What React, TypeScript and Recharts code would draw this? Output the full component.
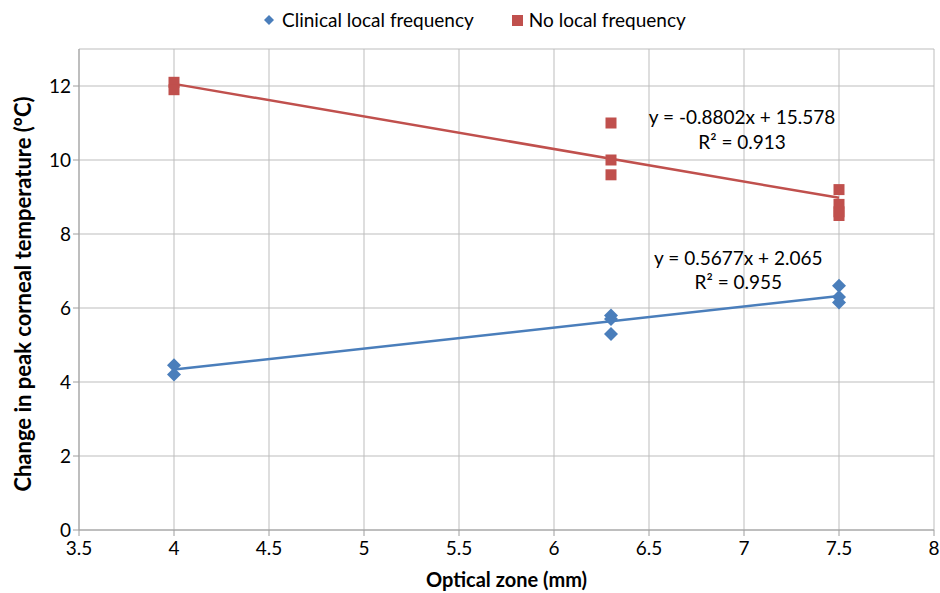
import {
  ScatterChart,
  Scatter,
  XAxis,
  YAxis,
  CartesianGrid,
  ReferenceDot,
} from "recharts";

const clinical = [
  { x: 4, y: 4.45 },
  { x: 4, y: 4.2 },
  { x: 6.3, y: 5.8 },
  { x: 6.3, y: 5.7 },
  { x: 6.3, y: 5.3 },
  { x: 7.5, y: 6.6 },
  { x: 7.5, y: 6.3 },
  { x: 7.5, y: 6.15 },
];

const noLocal = [
  { x: 4, y: 12.1 },
  { x: 4, y: 11.9 },
  { x: 6.3, y: 11.0 },
  { x: 6.3, y: 10.0 },
  { x: 6.3, y: 9.6 },
  { x: 7.5, y: 9.2 },
  { x: 7.5, y: 8.8 },
  { x: 7.5, y: 8.6 },
  { x: 7.5, y: 8.5 },
];

// trendline end points (from the fitted equations shown on the chart)
const clinicalTrend = [
  { x: 4, y: 4.336 },
  { x: 7.5, y: 6.323 },
];
const noLocalTrend = [
  { x: 4, y: 12.057 },
  { x: 7.5, y: 8.977 },
];

const xTicks = [3.5, 4, 4.5, 5, 5.5, 6, 6.5, 7, 7.5, 8];
const yTicks = [0, 2, 4, 6, 8, 10, 12];

const BLUE = "#4A7EBB";
const RED = "#C0504D";
const FONT = "Lato, 'Open Sans', sans-serif";

const Diamond = (props: any) => {
  const { cx, cy } = props;
  const r = 7;
  return (
    <polygon
      points={`${cx},${cy - r} ${cx + r},${cy} ${cx},${cy + r} ${cx - r},${cy}`}
      fill={BLUE}
    />
  );
};

const Square = (props: any) => {
  const { cx, cy } = props;
  const s = 11;
  return <rect x={cx - s / 2} y={cy - s / 2} width={s} height={s} fill={RED} />;
};

const NoShape = () => null;

function LegendBox() {
  return (
    <div
      style={{
        position: "absolute",
        top: 8,
        left: 264,
        display: "flex",
        gap: 38,
        fontFamily: FONT,
        fontSize: 19,
        lineHeight: "24px",
        color: "#000",
        whiteSpace: "nowrap",
      }}
    >
      <span style={{ display: "flex", alignItems: "center", gap: 8 }}>
        <svg width={10} height={10}>
          <polygon points="5,0 10,5 5,10 0,5" fill={BLUE} />
        </svg>
        Clinical local frequency
      </span>
      <span style={{ display: "flex", alignItems: "center", gap: 6 }}>
        <svg width={11} height={11}>
          <rect x={0} y={0} width={11} height={11} fill={RED} />
        </svg>
        No local frequency
      </span>
    </div>
  );
}

const YTitle = () => (
  <text
    x={22}
    y={294}
    transform="rotate(-90 22 294)"
    textAnchor="middle"
    dominantBaseline="central"
    style={{ fontSize: 22, fontWeight: 700, fill: "#000", fontFamily: FONT }}
  >
    Change in peak corneal temperature (°C)
  </text>
);

const tickStyle = { fontSize: 19, fill: "#000", fontFamily: FONT };
const noteStyle = { fontSize: 19, fill: "#000", fontFamily: FONT };

export default function App() {
  return (
    <div style={{ position: "absolute", left: 0, top: 0, width: 940, height: 593, background: "#fff" }}>
      <ScatterChart
        width={940}
        height={593}
        margin={{ top: 49, right: 6, bottom: 0, left: 0 }}
      >
        <CartesianGrid stroke="#BDBDBD" strokeWidth={1} />
        <XAxis
          type="number"
          dataKey="x"
          domain={[3.5, 8]}
          ticks={xTicks}
          stroke="#9E9E9E"
          tickSize={6}
          tick={{ ...tickStyle, dy: 4 }}
          height={63}
          label={{
            value: "Optical zone (mm)",
            position: "insideBottom",
            offset: 6,
            style: { fontSize: 20, fontWeight: 700, fill: "#000", fontFamily: FONT },
          }}
        />
        <YAxis
          type="number"
          dataKey="y"
          domain={[0, 13]}
          ticks={yTicks}
          stroke="#9E9E9E"
          tickSize={6}
          tick={tickStyle}
          width={79}
          label={{ content: () => <YTitle /> }}
        />
        <Scatter
          name="Clinical trend"
          data={clinicalTrend}
          line={{ stroke: BLUE, strokeWidth: 2.5 }}
          shape={NoShape}
          legendType="none"
          isAnimationActive={false}
        />
        <Scatter
          name="No local trend"
          data={noLocalTrend}
          line={{ stroke: RED, strokeWidth: 2.5 }}
          shape={NoShape}
          legendType="none"
          isAnimationActive={false}
        />
        <Scatter
          name="Clinical local frequency"
          data={clinical}
          shape={Diamond}
          fill={BLUE}
          isAnimationActive={false}
        />
        <Scatter
          name="No local frequency"
          data={noLocal}
          shape={Square}
          fill={RED}
          isAnimationActive={false}
        />
        <ReferenceDot x={6.99} y={11.16} r={0} label={{ value: "y = -0.8802x + 15.578", position: "center", style: noteStyle }} />
        <ReferenceDot x={6.99} y={10.49} r={0} label={{ value: "R² = 0.913", position: "center", style: noteStyle }} />
        <ReferenceDot x={6.97} y={7.35} r={0} label={{ value: "y = 0.5677x + 2.065", position: "center", style: noteStyle }} />
        <ReferenceDot x={6.97} y={6.7} r={0} label={{ value: "R² = 0.955", position: "center", style: noteStyle }} />
      </ScatterChart>
      <LegendBox />
    </div>
  );
}
